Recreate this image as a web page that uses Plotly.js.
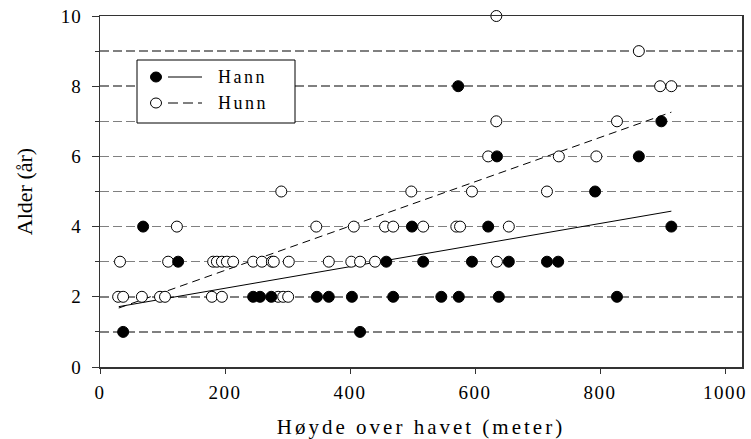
<!DOCTYPE html>
<html>
<head>
<meta charset="utf-8">
<script src="https://cdn.plot.ly/plotly-3.0.1.min.js"></script>
<style>
  html, body { margin: 0; padding: 0; background: #fff; }
  #chart { width: 751px; height: 439px; }
  .xtick text { letter-spacing: 1.5px; }
  .ytick text { letter-spacing: 1px; }
  .xtitle { letter-spacing: 3px; }
  .annotation-text { letter-spacing: 2.5px; }
</style>
</head>
<body>
<div id="chart"></div>
<script>
// Hann (males) – filled circles
const hannX = [37, 416,
  245, 256, 274, 347, 366, 403, 469, 546, 574, 638, 827,
  125, 458, 517, 595, 654, 715, 733,
  69, 499, 621, 914,
  792,
  635, 862,
  898,
  573];
const hannY = [1, 1,
  2, 2, 2, 2, 2, 2, 2, 2, 2, 2, 2,
  3, 3, 3, 3, 3, 3, 3,
  4, 4, 4, 4,
  5,
  6, 6,
  7,
  8];

// Hunn (females) – open circles
const hunnX = [29, 37, 67, 96, 104, 179, 195, 285, 293, 301,
  32, 109, 181, 187, 195, 203, 213, 245, 259, 275, 278, 302, 366, 402, 416, 440, 635,
  123, 346, 406, 456, 469, 517, 570, 576, 654,
  290, 498, 595, 715,
  621, 734, 794,
  634, 827,
  896, 914,
  862,
  634];
const hunnY = [2, 2, 2, 2, 2, 2, 2, 2, 2, 2,
  3, 3, 3, 3, 3, 3, 3, 3, 3, 3, 3, 3, 3, 3, 3, 3, 3,
  4, 4, 4, 4, 4, 4, 4, 4, 4,
  5, 5, 5, 5,
  6, 6, 6,
  7, 7,
  8, 8,
  9,
  10];

// Regression lines (end points)
const fitHannX = [30, 914];
const fitHannY = [1.72, 4.44];
const fitHunnX = [30, 914];
const fitHunnY = [1.68, 7.26];

const seriesNames = ['Hann', 'Hunn'];
const xTitle = 'Høyde over havet (meter)';
const yTitle = 'Alder (år)';

const FONT = '"Liberation Serif", "Times New Roman", serif';

const traces = [
  { x: fitHannX, y: fitHannY, mode: 'lines', line: { color: '#000', width: 1 }, showlegend: false, hoverinfo: 'skip' },
  { x: fitHunnX, y: fitHunnY, mode: 'lines', line: { color: '#000', width: 1, dash: '8px,5px' }, showlegend: false, hoverinfo: 'skip' },
  { x: hunnX, y: hunnY, mode: 'markers', name: seriesNames[1], cliponaxis: false,
    marker: { symbol: 'circle', size: 11, color: '#fff', line: { color: '#000', width: 1 } } },
  { x: hannX, y: hannY, mode: 'markers', name: seriesNames[0], cliponaxis: false,
    marker: { symbol: 'circle', size: 11, color: '#000', line: { color: '#000', width: 1 } } }
];

// plot area in pixels: left 100, right 742, top 16, bottom 367
const PL = 100, PR = 742, PT = 16, PB = 367;
const px = v => (v - PL) / (PR - PL);
const py = v => (PB - v) / (PB - PT);

const shapes = [
  { type: 'rect', xref: 'paper', yref: 'paper', x0: px(137), x1: px(295), y0: py(123), y1: py(60),
    line: { color: '#000', width: 1 }, fillcolor: '#fff', layer: 'above' },
  { type: 'circle', xref: 'paper', yref: 'paper', x0: px(150.5), x1: px(161.5), y0: py(82), y1: py(72),
    line: { color: '#000', width: 1 }, fillcolor: '#000', layer: 'above' },
  { type: 'line', xref: 'paper', yref: 'paper', x0: px(168), x1: px(202), y0: py(77), y1: py(77),
    line: { color: '#000', width: 1 }, layer: 'above' },
  { type: 'circle', xref: 'paper', yref: 'paper', x0: px(150.5), x1: px(161.5), y0: py(108), y1: py(98),
    line: { color: '#000', width: 1 }, fillcolor: '#fff', layer: 'above' },
  { type: 'line', xref: 'paper', yref: 'paper', x0: px(168), x1: px(202), y0: py(103), y1: py(103),
    line: { color: '#000', width: 1, dash: '10px,5px' }, layer: 'above' }
];

const annotations = [
  { xref: 'paper', yref: 'paper', x: px(216), y: py(77), xanchor: 'left', yanchor: 'middle',
    text: seriesNames[0], showarrow: false, font: { family: FONT, size: 18, color: '#000' } },
  { xref: 'paper', yref: 'paper', x: px(216), y: py(103), xanchor: 'left', yanchor: 'middle',
    text: seriesNames[1], showarrow: false, font: { family: FONT, size: 18, color: '#000' } }
];

const layout = {
  width: 751, height: 439,
  margin: { l: PL, r: 751 - PR, t: PT, b: 439 - PB },
  paper_bgcolor: '#fff', plot_bgcolor: '#fff',
  showlegend: false,
  font: { family: FONT, color: '#000' },
  xaxis: {
    range: [0, 1027], tick0: 0, dtick: 200,
    ticks: 'outside', ticklen: 5, tickcolor: '#333', tickwidth: 1,
    ticklabelstandoff: 3,
    showline: true, mirror: true, linecolor: '#333', linewidth: 1.5,
    showgrid: false, zeroline: false,
    tickfont: { family: FONT, size: 19, color: '#000' },
    title: { text: xTitle, font: { family: FONT, size: 21, color: '#000' }, standoff: 18 },
    automargin: false
  },
  yaxis: {
    range: [0, 10], tick0: 0, dtick: 2,
    ticks: 'outside', ticklen: 7, tickcolor: '#333', tickwidth: 1,
    ticklabelstandoff: 6,
    showline: true, mirror: true, linecolor: '#333', linewidth: 1.5,
    showgrid: true, gridcolor: '#808080', gridwidth: 1.5, griddash: '9px,4px',
    minor: { dtick: 1, ticks: 'outside', ticklen: 4, tickcolor: '#333',
             showgrid: true, gridcolor: '#808080', gridwidth: 1.5, griddash: '9px,4px' },
    zeroline: false,
    tickfont: { family: FONT, size: 19, color: '#000' },
    title: { text: yTitle, font: { family: FONT, size: 22, color: '#000' }, standoff: 22 },
    automargin: false
  },
  shapes: shapes,
  annotations: annotations
};

Plotly.newPlot('chart', traces, layout, { displayModeBar: false, staticPlot: true });
</script>
</body>
</html>
